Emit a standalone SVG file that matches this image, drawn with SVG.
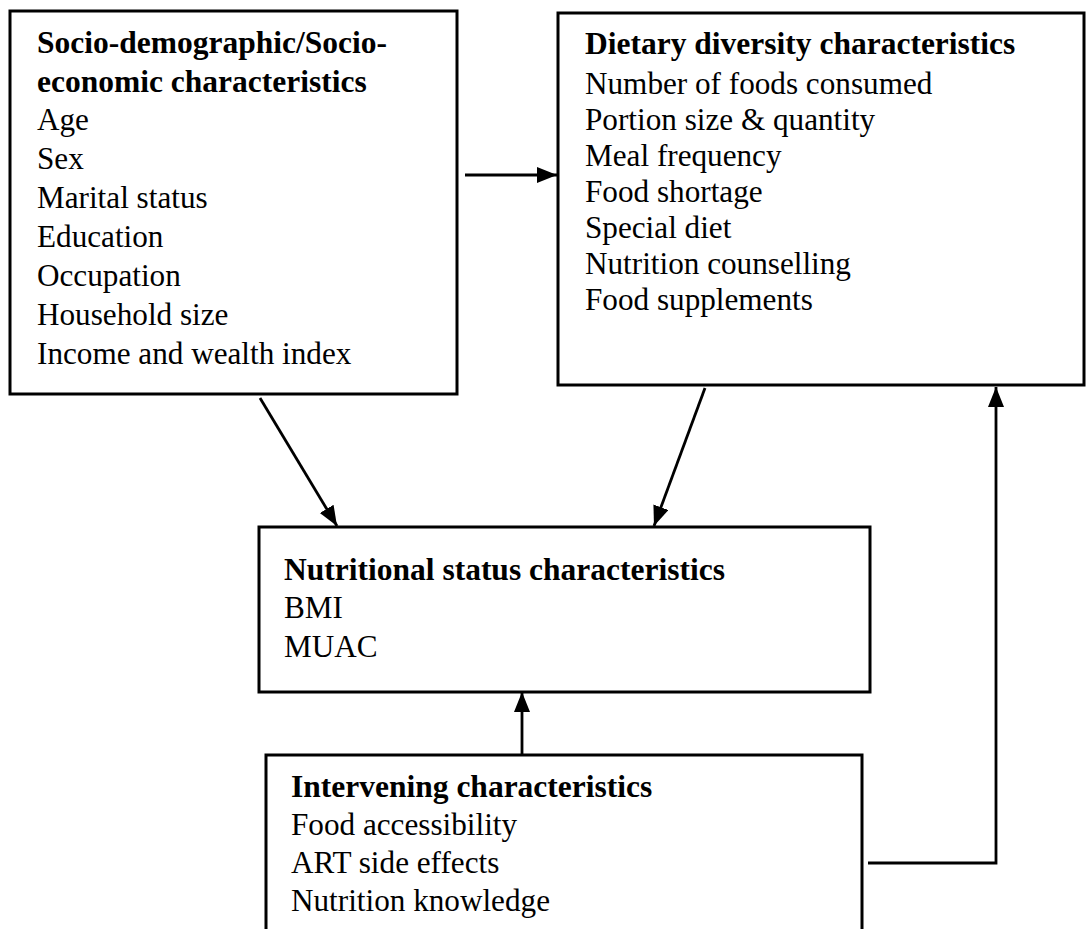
<svg xmlns="http://www.w3.org/2000/svg" width="1086" height="929" viewBox="0 0 1086 929">
<style>
.box{fill:#fff;stroke:#000;stroke-width:3}
.t{font-family:"Liberation Serif","Times New Roman",serif;font-size:31.2px;fill:#000}
.b{font-weight:bold;font-size:31.5px}
.c{fill:none;stroke:#000;stroke-width:2.8}
</style>
<defs>
<marker id="ah" markerUnits="userSpaceOnUse" markerWidth="22" markerHeight="18" refX="20" refY="8" orient="auto">
<path d="M0,0 L20,8 L0,16 z" fill="#000"/>
</marker>
</defs>
<rect width="1086" height="929" fill="#fff"/>
<g id="connectors">
<line class="c" x1="465" y1="175" x2="557" y2="175" marker-end="url(#ah)"/>
<line class="c" x1="260" y1="398" x2="337" y2="526" marker-end="url(#ah)"/>
<line class="c" x1="705" y1="388" x2="654" y2="526" marker-end="url(#ah)"/>
<line class="c" x1="522" y1="757" x2="522" y2="692" marker-end="url(#ah)"/>
<polyline class="c" points="868,863 996,863 996,387" marker-end="url(#ah)"/>
</g>
<g id="socio">
<rect class="box" x="10" y="11" width="447" height="383"/>
<text class="t b" x="37" y="53">Socio-demographic/Socio-</text>
<text class="t b" x="37" y="92">economic characteristics</text>
<text class="t" x="37" y="130">Age</text>
<text class="t" x="37" y="169">Sex</text>
<text class="t" x="37" y="208">Marital status</text>
<text class="t" x="37" y="247">Education</text>
<text class="t" x="37" y="286">Occupation</text>
<text class="t" x="37" y="325">Household size</text>
<text class="t" x="37" y="364">Income and wealth index</text>
</g>
<g id="dietary">
<rect class="box" x="558" y="13" width="526" height="372"/>
<text class="t b" x="585" y="54">Dietary diversity characteristics</text>
<text class="t" x="585" y="94">Number of foods consumed</text>
<text class="t" x="585" y="130">Portion size &amp; quantity</text>
<text class="t" x="585" y="166">Meal frequency</text>
<text class="t" x="585" y="202">Food shortage</text>
<text class="t" x="585" y="238">Special diet</text>
<text class="t" x="585" y="274">Nutrition counselling</text>
<text class="t" x="585" y="310">Food supplements</text>
</g>
<g id="nutritional">
<rect class="box" x="259" y="527" width="611" height="165"/>
<text class="t b" x="284" y="580">Nutritional status characteristics</text>
<text class="t" x="284" y="618">BMI</text>
<text class="t" x="284" y="657">MUAC</text>
</g>
<g id="intervening">
<rect class="box" x="266" y="755" width="596" height="220"/>
<text class="t b" x="291" y="797">Intervening characteristics</text>
<text class="t" x="291" y="835">Food accessibility</text>
<text class="t" x="291" y="873">ART side effects</text>
<text class="t" x="291" y="911">Nutrition knowledge</text>
</g>
</svg>
